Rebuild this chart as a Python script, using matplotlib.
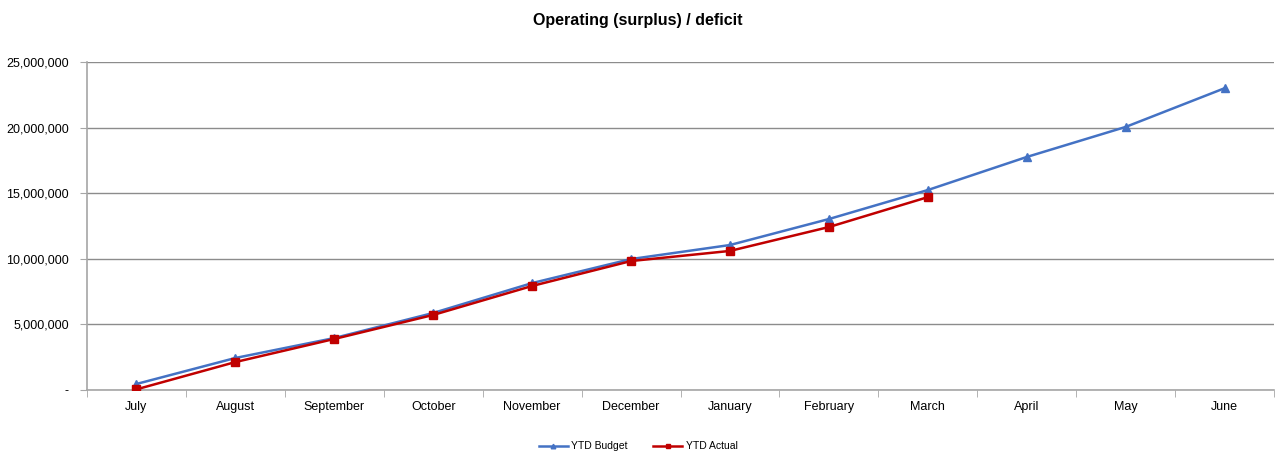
import matplotlib
matplotlib.use('Agg')
import matplotlib.pyplot as plt
import matplotlib.ticker as ticker
import numpy as np

months = ['July', 'August', 'September', 'October', 'November', 'December',
          'January', 'February', 'March', 'April', 'May', 'June']
ytd_budget = [460000, 2440000, 3960000, 5870000, 8150000, 9980000,
              11050000, 13030000, 15240000, 17760000, 20050000, 23000000]
ytd_actual = [50000, 2130000, 3890000, 5720000, 7930000, 9830000,
              10600000, 12420000, 14700000]

plt.rcParams['font.family'] = ['Liberation Sans', 'DejaVu Sans']


def fmt_y(v, pos):
    if v == 0:
        return '-'
    return f'{v:,.0f}'


fig = plt.figure(figsize=(12.76, 4.54), dpi=100)
ax = fig.add_axes([87 / 1276, 1 - 390 / 454, (1274 - 87) / 1276, (390 - 62) / 454])

x = np.arange(len(months))
ax.plot(x, ytd_budget, color='#4472C4', lw=1.8, marker='^', ms=5.5, label='YTD Budget', zorder=3)
ax.plot(x[:len(ytd_actual)], ytd_actual, color='#C00000', lw=1.8, marker='s', ms=5.5,
        label='YTD Actual', zorder=4)

ax.set_xlim(-0.5, len(months) - 0.5)
ax.set_ylim(0, 25000000)
ax.yaxis.set_major_locator(ticker.MultipleLocator(5000000))
ax.yaxis.set_major_formatter(ticker.FuncFormatter(fmt_y))
ax.grid(axis='y', color='#8c8c8c', lw=1)
ax.set_axisbelow(True)

ax.set_xticks(x)
ax.set_xticklabels(months)
ax.set_xticks(np.arange(-0.5, len(months)), minor=True)
ax.tick_params(axis='x', which='major', length=0, pad=8, labelsize=9)
ax.tick_params(axis='x', which='minor', length=5, color='#a6a6a6')
ax.tick_params(axis='y', length=5, color='#a6a6a6', labelsize=9, pad=8)

for s in ['top', 'right']:
    ax.spines[s].set_visible(False)
ax.spines['left'].set_color('#a6a6a6')
ax.spines['bottom'].set_color('#a6a6a6')
ax.spines['left'].set_linewidth(1.2)
ax.spines['bottom'].set_linewidth(1.2)

fig.suptitle('Operating (surplus) / deficit', y=0.972, fontsize=11.5, fontweight='bold')
fig.legend(loc='lower center', bbox_to_anchor=(0.5, -0.015), ncol=2, frameon=False,
           fontsize=7.5, handlelength=2.8, handletextpad=0.3, columnspacing=2.5,
           markerscale=0.6)

fig.savefig('out.png', dpi=100)
